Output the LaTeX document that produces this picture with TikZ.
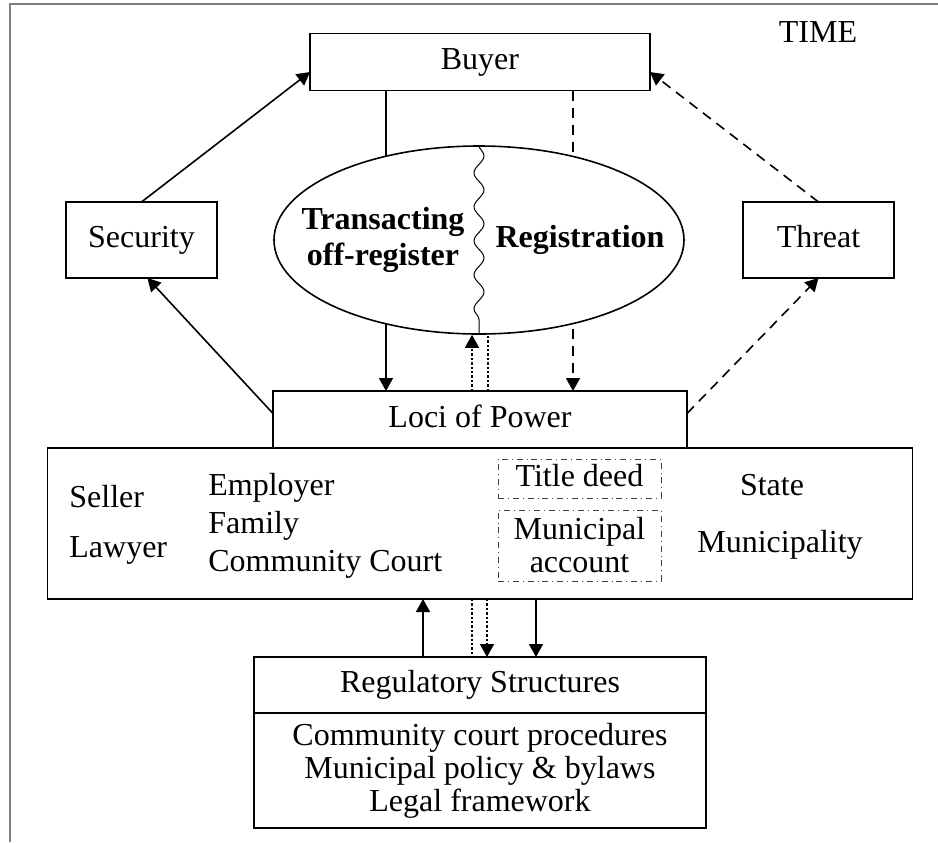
\documentclass[tikz,border=0pt]{standalone}
\usepackage{fontspec}
\setmainfont{Liberation Serif}
\usetikzlibrary{positioning,arrows.meta,shapes.geometric,decorations.pathmorphing}

\begin{document}
\begin{tikzpicture}[x=0.5pt,y=-0.5pt,>={Triangle[length=6.5pt,width=7pt]},
  every node/.style={font=\fontsize{16pt}{19pt}\selectfont},
  box/.style={draw,line width=0.8pt,inner sep=0pt,outer sep=0pt,align=center},
  lbl/.style={text height=11pt,text depth=3.5pt},
  docbox/.style={draw=black!75,dash dot,line width=0.4pt,inner sep=0pt,minimum width=81.5pt,align=center},
  link/.style={line width=0.8pt},
  dashlink/.style={link,dash pattern=on 5pt off 3.5pt},
  dotlink/.style={link,dash pattern=on 1.2pt off 1pt},
  txt/.style={inner sep=0pt}]
\useasboundingbox (0,0) rectangle (938,842);
% frame
\draw[gray,line width=1pt] (10,842) -- (10,4) -- (938,4);
\node[txt] (time) at (818,32) {TIME};

\node[box,lbl,minimum width=170pt,minimum height=28.5pt] (buyer) at (480,62) {Buyer};
\node[box,lbl,minimum width=75.5pt,minimum height=38pt] (security) at (141.5,240) {Security};
\node[box,lbl,minimum width=75.5pt,minimum height=38pt] (threat) at (818.5,240) {Threat};

% loci of power
\node[box,minimum width=432.5pt,minimum height=75.5pt] (actors) at (480,523.5) {};
\node[box,lbl,minimum width=207pt,minimum height=28.5pt,above=0pt of actors] (power) {Loci of Power};
\node[txt,anchor=base west] (seller) at (69,507) {Seller};
\node[txt,anchor=base west] (lawyer) at (69,557) {Lawyer};
\node[txt,anchor=base west] (employer) at (208,495) {Employer};
\node[txt,anchor=base west] (family) at (208,533) {Family};
\node[txt,anchor=base west] (court) at (208,571) {Community Court};
\node[docbox,lbl,minimum height=19.5pt] (deed) at (579.5,478.5) {Title deed};
\node[docbox,minimum height=35.5pt,font=\fontsize{16pt}{16.5pt}\selectfont] (account) at (579.5,545.5) {Municipal\\account};
\node[txt,anchor=base] (state) at (772,495) {State};
\node[txt,anchor=base] (munic) at (780,552) {Municipality};

% regulatory structures
\node[box,lbl,minimum width=226pt,minimum height=28pt,below=29pt of actors] (reg) {Regulatory Structures};
\node[box,minimum width=226pt,minimum height=57.5pt,below=0pt of reg,font=\fontsize{16pt}{16.5pt}\selectfont] (rules) {Community court procedures\\Municipal policy \& bylaws\\Legal framework};

% buyer to loci, behind the ellipse
\draw[link,->] ([xshift=-47pt]buyer.south) -- ([xshift=-47pt]power.north);
\draw[dashlink,->] ([xshift=46.5pt]buyer.south) -- ([xshift=46.5pt]power.north);

\node[ellipse,draw,line width=0.8pt,fill=white,minimum width=205pt,minimum height=94pt,inner sep=0pt] (ell) at (479,240) {};
\draw[line width=0.5pt,decorate,decoration={snake,segment length=17pt,amplitude=2.5pt}] (ell.north) -- (ell.south);
\node[txt,font=\bfseries\fontsize{16pt}{18pt}\selectfont,align=center] (offreg) at (383,240) {Transacting\\off-register};
\node[txt,lbl,font=\bfseries\fontsize{16pt}{18pt}\selectfont] (registr) at (580,240) {Registration};

\draw[dotlink,->] ([xshift=-4pt]power.north) -- ([xshift=-3.5pt]ell.south);
\draw[dotlink] ([xshift=4pt]power.north) -- ([xshift=4.5pt]ell.south);

% sides
\draw[link,->] (security.north) -- ([yshift=-5pt]buyer.west);
\draw[dashlink,->] (threat.north) -- ([yshift=-5pt]buyer.east);
\draw[link,->] ([yshift=3pt]power.west) -- ([xshift=3pt]security.south);
\draw[dashlink,->] ([yshift=3pt]power.east) -- (threat.south);

% loci and regulation
\draw[link,->] ([xshift=-28.5pt]reg.north) -- ([xshift=-28.5pt]actors.south);
\draw[dotlink] ([xshift=-4pt]actors.south) -- ([xshift=-4pt]reg.north);
\draw[dotlink,->] ([xshift=3.5pt]actors.south) -- ([xshift=3.5pt]reg.north);
\draw[link,->] ([xshift=28pt]actors.south) -- ([xshift=28pt]reg.north);
\end{tikzpicture}
\end{document}
